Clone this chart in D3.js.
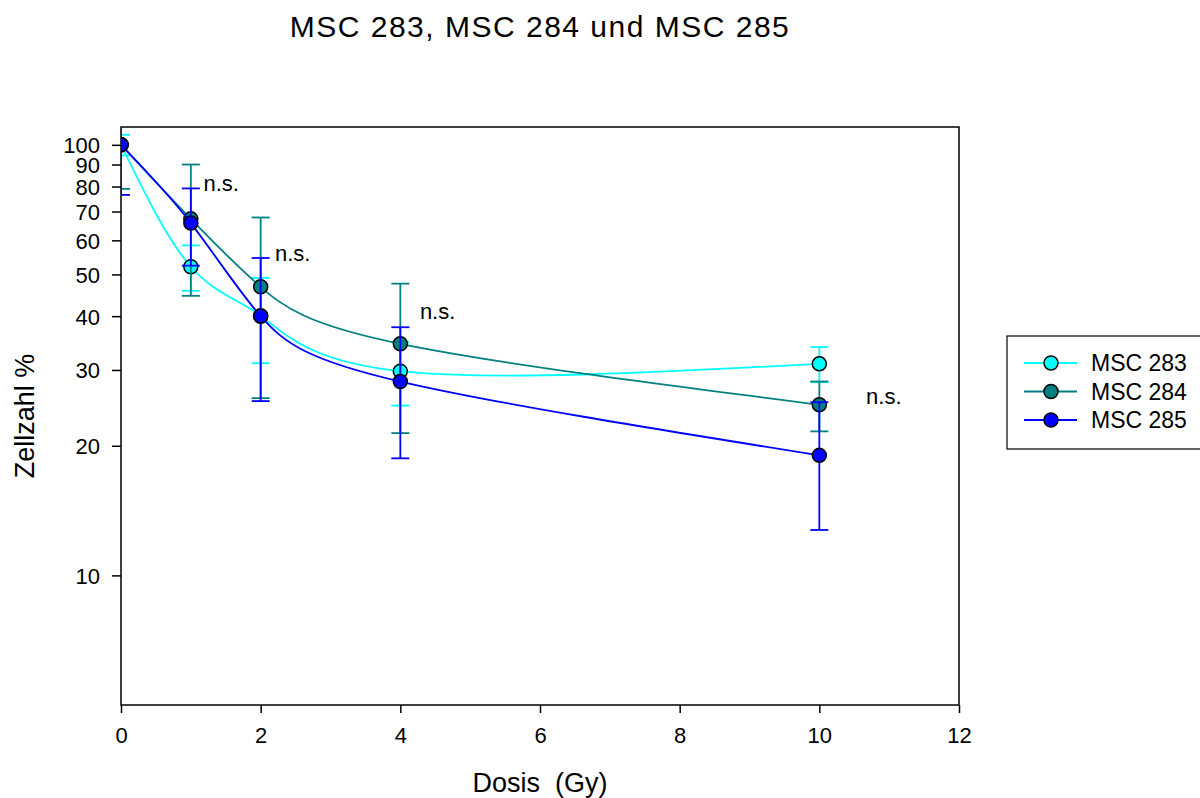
<!DOCTYPE html>
<html>
<head>
<meta charset="utf-8">
<script src="https://cdn.jsdelivr.net/npm/d3@7"></script>
<style>
  body { margin: 0; background: #fff; }
  text { font-family: "Liberation Sans", Arial, sans-serif; fill: #000; }
</style>
</head>
<body>
<div id="chart"></div>
<script>
// doses (Gy) and cell counts in % (log axis), error = SD
var doses = [0, 1, 2, 4, 10];
var msc283 = [100, 52.1, 40.1, 29.8, 31.0];
var sd283  = [5.5, 6.3, 9.0, 5.0, 2.9];
var msc284 = [100, 67.3, 46.8, 34.5, 24.9];
var sd284  = [21, 22.7, 21, 13.1, 3.3];
var msc285 = [100, 65.8, 40.0, 28.2, 19.0];
var sd285  = [23.5, 13.4, 14.6, 9.5, 6.25];

var seriesNames = ["MSC 283", "MSC 284", "MSC 285"];
var seriesColors = ["#00ffff", "#008080", "#0000ff"];

var xTicks = [0, 2, 4, 6, 8, 10, 12];
var yTicks = [10, 20, 30, 40, 50, 60, 70, 80, 90, 100];

// "n.s." annotations (dose, value at baseline)
var nsDose  = [1.18, 2.205, 4.28, 10.67];
var nsValue = [78.2, 53.8, 39.4, 25.0];

var width = 1200, height = 798;
var pLeft = 121, pRight = 959, pTop = 127, pBottom = 705;

var svg = d3.select("#chart").append("svg")
  .attr("width", width)
  .attr("height", height);

var x = d3.scaleLinear().domain([0, 12]).range([pLeft, pRight]);
var y = d3.scaleLog().domain([5, 110]).range([pBottom, pTop]);

svg.append("defs").append("clipPath").attr("id", "plotclip")
  .append("rect")
  .attr("x", pLeft).attr("y", pTop)
  .attr("width", pRight - pLeft).attr("height", pBottom - pTop);

// title
svg.append("text")
  .attr("x", (pLeft + pRight) / 2)
  .attr("y", 37)
  .attr("text-anchor", "middle")
  .style("font-size", "30px")
  .style("letter-spacing", "1.5px")
  .text("MSC 283, MSC 284 und MSC 285");

// frame
svg.append("rect")
  .attr("x", pLeft).attr("y", pTop)
  .attr("width", pRight - pLeft).attr("height", pBottom - pTop)
  .style("fill", "none")
  .style("stroke", "#000")
  .style("stroke-width", 1.5);

// axes
var xAxis = svg.append("g")
  .attr("transform", "translate(0," + pBottom + ")")
  .call(d3.axisBottom(x).tickValues(xTicks).tickSize(8).tickPadding(14).tickFormat(d3.format("d")));
var yAxis = svg.append("g")
  .attr("transform", "translate(" + pLeft + ",0)")
  .call(d3.axisLeft(y).tickValues(yTicks).tickSize(9).tickPadding(12).tickFormat(d3.format("d")));

[xAxis, yAxis].forEach(function(ax){
  ax.attr("font-size", null).attr("font-family", null);
  ax.select(".domain").remove();
  ax.selectAll("line").style("stroke", "#000").style("stroke-width", 1.5);
  ax.selectAll("text")
    .style("font-size", "22px")
    .style("fill", "#000");
});
yAxis.selectAll("text").attr("dy", "0.36em");

// axis titles
svg.append("text")
  .attr("x", (pLeft + pRight) / 2)
  .attr("y", 792)
  .attr("text-anchor", "middle")
  .style("font-size", "27px")
  .style("white-space", "pre")
  .text("Dosis  (Gy)");

svg.append("text")
  .attr("transform", "translate(34," + ((pTop + pBottom) / 2) + ") rotate(-90)")
  .attr("text-anchor", "middle")
  .style("font-size", "27px")
  .text("Zellzahl %");

var allSeries = [
  { name: seriesNames[0], color: seriesColors[0], values: msc283, sd: sd283 },
  { name: seriesNames[1], color: seriesColors[1], values: msc284, sd: sd284 },
  { name: seriesNames[2], color: seriesColors[2], values: msc285, sd: sd285 }
];

var line = d3.line()
  .x(function(d){ return x(d.dose); })
  .y(function(d){ return y(d.value); })
  .curve(d3.curveNatural);

var plot = svg.append("g").attr("clip-path", "url(#plotclip)");
var capHalf = 9;

allSeries.forEach(function(s){
  var pts = doses.map(function(d, i){ return { dose: d, value: s.values[i], sd: s.sd[i] }; });
  var g = plot.append("g");

  g.append("path")
    .datum(pts)
    .attr("d", line)
    .style("fill", "none")
    .style("stroke", s.color)
    .style("stroke-width", 1.8);

  var eb = g.selectAll(".eb").data(pts).enter().append("g");
  eb.append("line")
    .attr("x1", function(d){ return x(d.dose); })
    .attr("x2", function(d){ return x(d.dose); })
    .attr("y1", function(d){ return y(d.value + d.sd); })
    .attr("y2", function(d){ return y(d.value - d.sd); })
    .style("stroke", s.color).style("stroke-width", 1.8);
  eb.append("line")
    .attr("x1", function(d){ return x(d.dose) - capHalf; })
    .attr("x2", function(d){ return x(d.dose) + capHalf; })
    .attr("y1", function(d){ return y(d.value + d.sd); })
    .attr("y2", function(d){ return y(d.value + d.sd); })
    .style("stroke", s.color).style("stroke-width", 1.8);
  eb.append("line")
    .attr("x1", function(d){ return x(d.dose) - capHalf; })
    .attr("x2", function(d){ return x(d.dose) + capHalf; })
    .attr("y1", function(d){ return y(d.value - d.sd); })
    .attr("y2", function(d){ return y(d.value - d.sd); })
    .style("stroke", s.color).style("stroke-width", 1.8);

  g.selectAll(".pt").data(pts).enter().append("circle")
    .attr("cx", function(d){ return x(d.dose); })
    .attr("cy", function(d){ return y(d.value); })
    .attr("r", 7)
    .style("fill", s.color)
    .style("stroke", "#000")
    .style("stroke-width", 1.5);
});

// n.s. labels
nsDose.forEach(function(d, i){
  svg.append("text")
    .attr("x", x(d))
    .attr("y", y(nsValue[i]))
    .style("font-size", "22px")
    .text("n.s.");
});

// legend
var lg = svg.append("g");
lg.append("rect")
  .attr("x", 1007).attr("y", 336)
  .attr("width", 220).attr("height", 113)
  .style("fill", "#fff")
  .style("stroke", "#000")
  .style("stroke-width", 1.2);

allSeries.forEach(function(s, i){
  var ly = 363 + i * 28.5;
  lg.append("line")
    .attr("x1", 1024).attr("x2", 1077)
    .attr("y1", ly).attr("y2", ly)
    .style("stroke", s.color).style("stroke-width", 1.8);
  lg.append("circle")
    .attr("cx", 1051).attr("cy", ly).attr("r", 7)
    .style("fill", s.color).style("stroke", "#000").style("stroke-width", 1.5);
  lg.append("text")
    .attr("x", 1091).attr("y", ly + 8)
    .style("font-size", "23px")
    .text(s.name);
});
</script>
</body>
</html>
